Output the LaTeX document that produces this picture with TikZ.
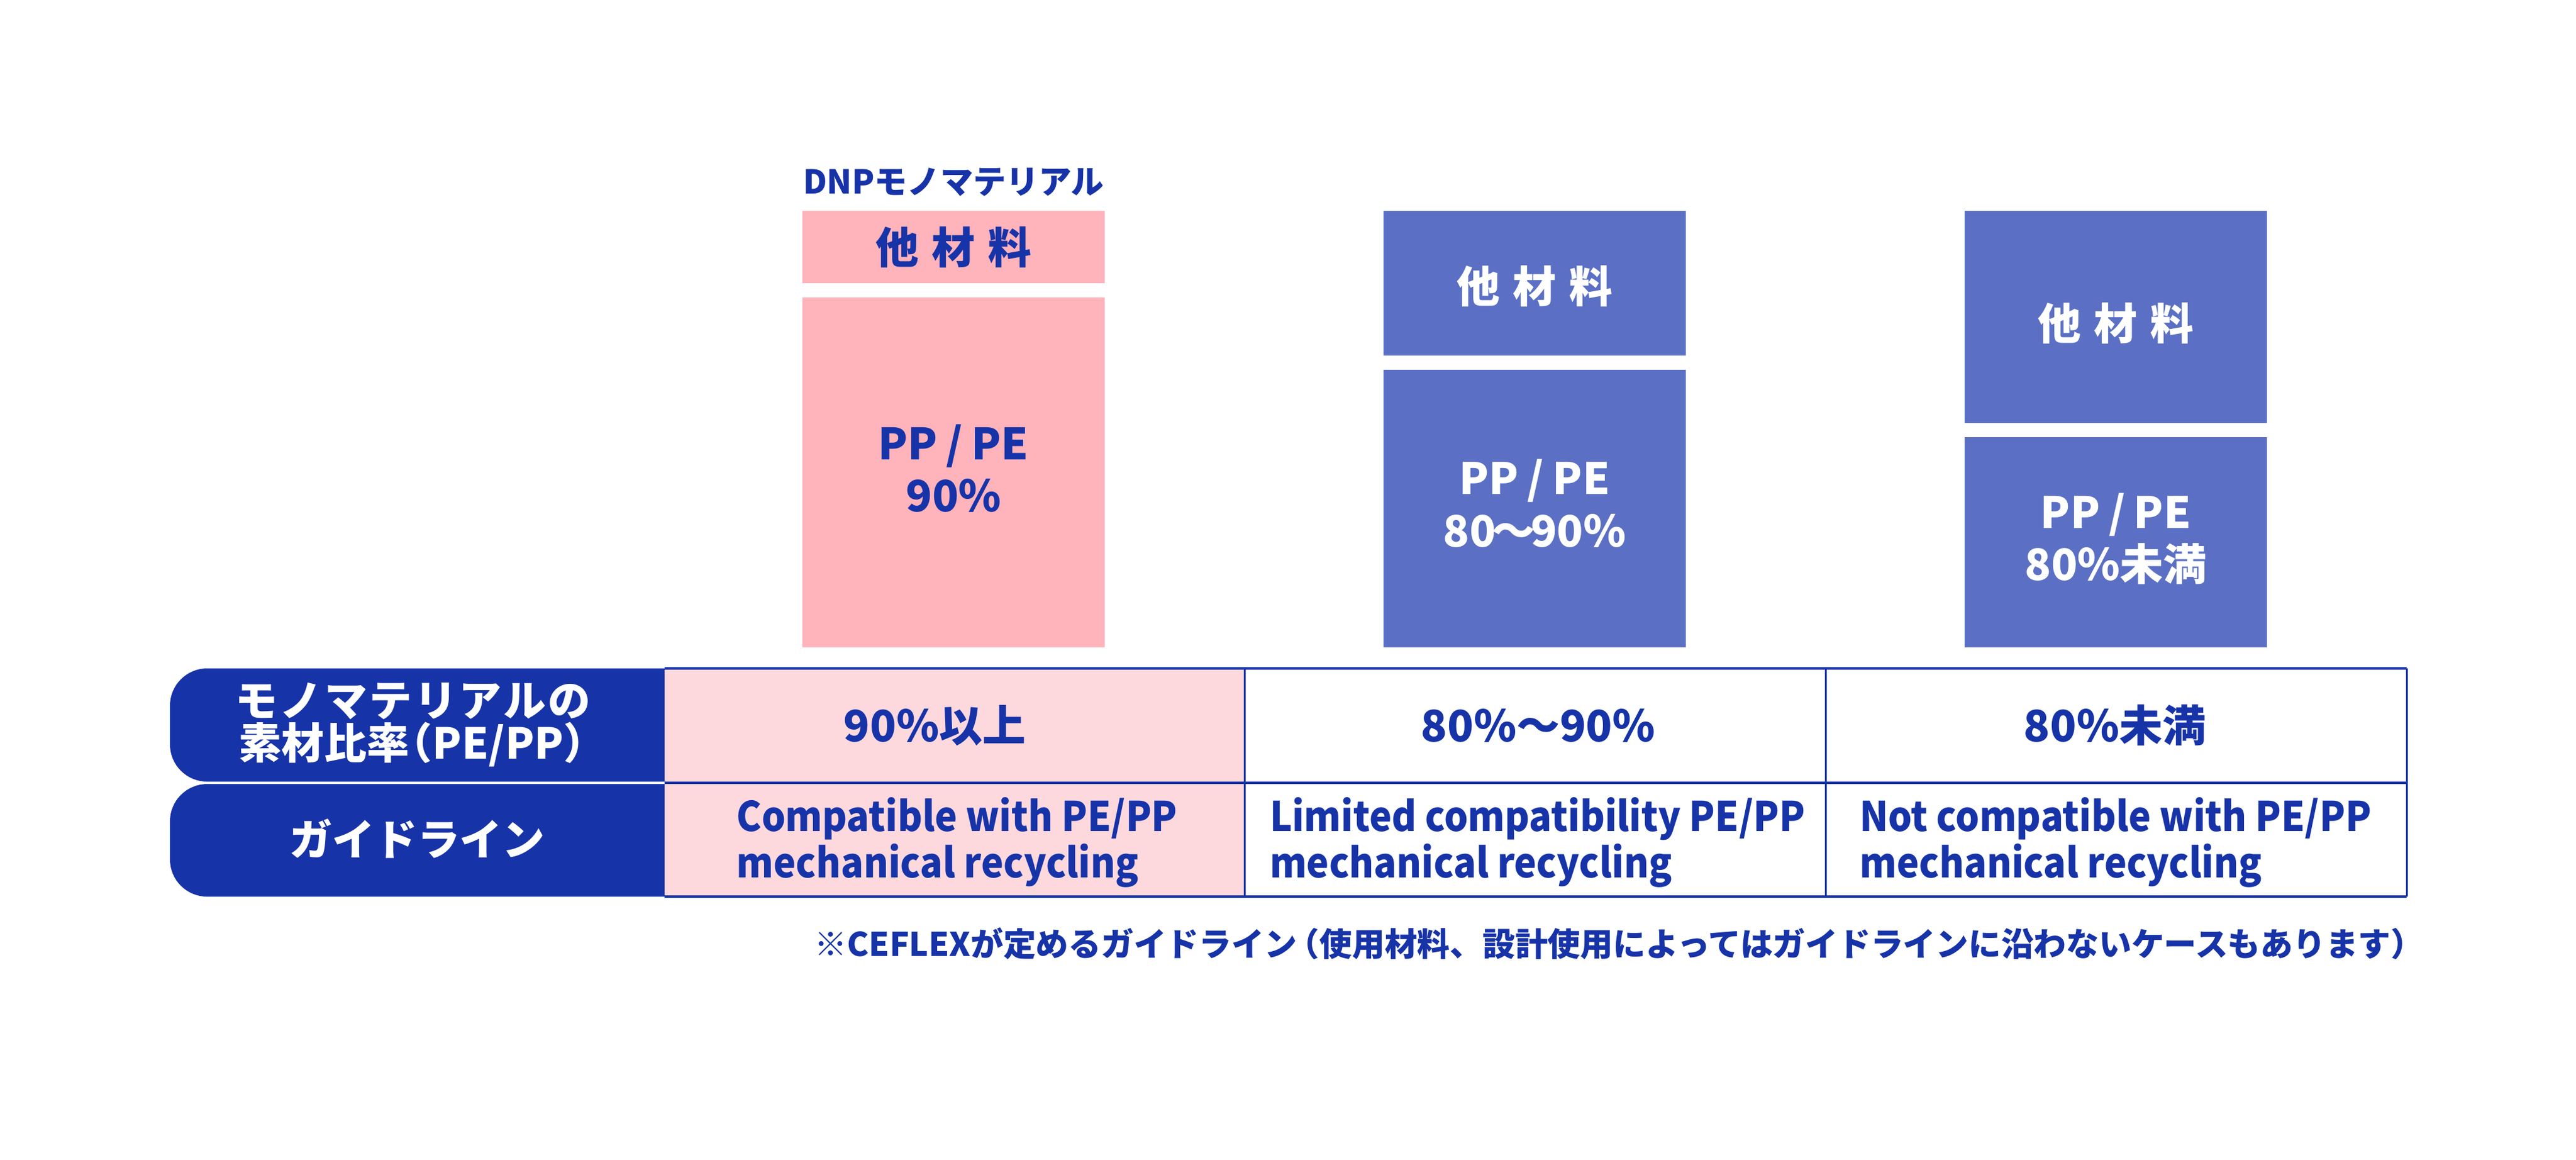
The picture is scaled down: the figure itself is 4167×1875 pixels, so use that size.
\documentclass[tikz,border=0pt]{standalone}
\usepackage{fontspec}
\setmainfont{Noto Sans CJK JP}
\newfontfamily\condfont{Noto Sans CJK JP}[FakeStretch=0.92]
\definecolor{dkblue}{HTML}{1733A8}
\definecolor{boxblue}{HTML}{5B70C4}
\definecolor{pinkbox}{HTML}{FFB3BB}
\definecolor{pinkcell}{HTML}{FDD9DE}
\newcommand{\slsh}{\kern0.2em/\kern0.2em}
\tikzset{
  bx/.style={inner sep=0pt, outer sep=0pt},
  pinkbx/.style={bx, fill=pinkbox},
  bluebx/.style={bx, fill=boxblue},
  bxtext/.style={inner sep=0pt, align=center, font=\bfseries\fontsize{19.9}{23.9}\selectfont},
  pinktext/.style={bxtext, text=dkblue},
  bluetext/.style={bxtext, text=white},
  toplabel/.style={inner sep=0pt, text=dkblue, font=\bfseries\fontsize{15.1}{18}\selectfont},
  lbl/.style={inner sep=0pt, text=white, align=center, font=\bfseries\fontsize{19.6}{19.6}\selectfont},
  cellone/.style={inner sep=0pt, text=dkblue, font=\bfseries\fontsize{19.9}{23.9}\selectfont},
  celltwo/.style={inner sep=0pt, text=dkblue, align=left, font=\condfont\bfseries\fontsize{18.8}{21.3}\selectfont},
  foot/.style={inner sep=0pt, text=dkblue, font=\bfseries\fontsize{15.0}{17}\selectfont},
  hline/.style={dkblue, line width=1.4pt},
  vline/.style={dkblue, line width=0.85pt},
}
\begin{document}
\begin{tikzpicture}[x=0.01cm, y=-0.01cm]
\useasboundingbox (0,0) rectangle (4167,1875);
% column 1 (DNP)
\node[toplabel] (dnp) at (1542.5,295) {DNPモノマテリアル};
\node[pinkbx, minimum width=4.89cm, minimum height=1.17cm] (p1top) at (1542.5,399.5) {};
\node[pinkbx, minimum width=4.89cm, minimum height=5.66cm] (p1bot) at (1542.5,764) {};
\node[pinktext] (p1topT) at (1542.5,399.5) {他\hspace{0.3em}材\hspace{0.3em}料};
\node[pinktext] (p1botT) at (1542.5,758) {PP\slsh PE\\90\%};
% column 2
\node[bluebx, minimum width=4.89cm, minimum height=2.34cm] (b2top) at (2482.5,458) {};
\node[bluebx, minimum width=4.89cm, minimum height=4.49cm] (b2bot) at (2482.5,822.5) {};
\node[bluetext] (b2topT) at (2482.5,463) {他\hspace{0.3em}材\hspace{0.3em}料};
\node[bluetext] (b2botT) at (2482.5,814) {PP\slsh PE\\80\kern-0.1em～\kern-0.1em 90\%};
% column 3
\node[bluebx, minimum width=4.89cm, minimum height=3.43cm] (b3top) at (3422.5,512.5) {};
\node[bluebx, minimum width=4.89cm, minimum height=3.40cm] (b3bot) at (3422.5,877) {};
\node[bluetext] (b3topT) at (3422.5,523) {他\hspace{0.3em}材\hspace{0.3em}料};
\node[bluetext] (b3botT) at (3422.5,871) {PP\slsh PE\\80\%未満};
% table background
\fill[pinkcell] (1075,1081) rectangle (2013,1450);
\fill[dkblue] (1075,1081) [rounded corners=0.6cm] -- (275,1081) -- (275,1264) [sharp corners] -- (1075,1264) -- cycle;
\fill[dkblue] (1075,1268) [rounded corners=0.6cm] -- (275,1268) -- (275,1450) [sharp corners] -- (1075,1450) -- cycle;
% grid
\draw[hline] (1075,1081) -- (3893,1081);
\draw[hline] (1075,1266) -- (3893,1266);
\draw[hline] (1075,1450) -- (3893,1450);
\draw[vline] (2013,1081) -- (2013,1450);
\draw[vline] (2953,1081) -- (2953,1450);
\draw[vline] (3893,1081) -- (3893,1450);
% labels
\node[lbl] (lab1) at (668,1172) {{\addfontfeature{LetterSpace=5}モノマテリアルの}\\素材比率\kern-0.45em（PE/PP）\kern-0.45em};
\node[lbl] (lab2) at (675,1356) {ガイドライン};
% row 1
\node[cellone] (r1c1) at (1512,1173) {90\%以上};
\node[cellone] (r1c2) at (2488,1173) {80\%～90\%};
\node[cellone] (r1c3) at (3421,1173) {80\%未満};
% row 2
\node[celltwo] (r2c1) at (1548,1362) {Compatible with PE/PP\\mechanical recycling};
\node[celltwo] (r2c2) at (2487,1362) {Limited compatibility PE/PP\\mechanical recycling};
\node[celltwo] (r2c3) at (3422,1362) {Not compatible with PE/PP\\mechanical recycling};
% footnote
\node[foot, anchor=east] (note) at (3921,1526) {※CEFLEXが定めるガイドライン\kern-0.3em（使用材料、設計使用によってはガイドラインに沿わないケースもあります）};
\end{tikzpicture}
\end{document}
